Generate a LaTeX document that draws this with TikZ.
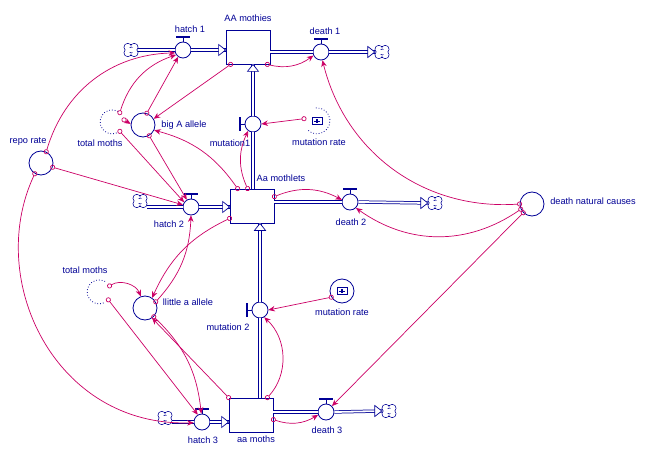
\documentclass[tikz,border=0pt]{standalone}
\usepackage{fontspec}
\setmainfont{Liberation Sans}
\usetikzlibrary{arrows.meta}
\definecolor{nv}{RGB}{0,0,150}
\definecolor{mg}{RGB}{204,0,102}
\newcommand{\pipeR}[1]{\draw[nv,line width=0.7pt,fill=white] #1 -- ++(-7,5.5) -- ++(0,-11) -- cycle;}
\newcommand{\pipeU}[1]{\draw[nv,line width=0.7pt,fill=white] #1 -- ++(-5.5,-7) -- ++(11,0) -- cycle;}
\begin{document}
\begin{tikzpicture}[x=1pt,y=1pt,
  stock/.style={draw=nv, line width=0.8pt, fill=white, minimum width=44pt, minimum height=34pt, inner sep=0},
  valve/.style={circle, draw=nv, line width=0.8pt, fill=white, minimum size=16pt, inner sep=0},
  aux/.style={circle, draw=nv, line width=0.8pt, fill=white, minimum size=24pt, inner sep=0},
  ghost/.style={circle, minimum size=24pt, inner sep=0},
  cloudn/.style={rectangle, minimum width=14pt, minimum height=13pt, inner sep=0},
  lbl/.style={text=nv, font=\fontsize{9.2}{10}\selectfont, inner sep=0, text height=6.5pt, text depth=1.8pt},
  pipe/.style={draw=nv, line width=0.75pt, double=white, double distance=1.8pt},
  conn/.style={draw=mg, line width=0.7pt, shorten <=-2.5pt, {Circle[open,length=5pt,width=5pt]}-{Stealth[length=6.5pt,width=5.5pt]}},
  vstem/.style={draw=nv, line width=0.8pt},
  vbar/.style={draw=nv, line width=1.6pt},
]
\useasboundingbox (0,0) rectangle (645,-457);
\fill[white] (0,0) rectangle (645,-457);

% stocks
\node[stock] (AA) at (248,-47) {};
\node[stock] (Aa) at (252,-206) {};
\node[stock] (aam) at (251,-415) {};

% valves
\node[valve] (h1) at (183,-50) {};
\node[valve] (d1) at (321,-52) {};
\node[valve] (h2) at (191,-207) {};
\node[valve] (d2) at (350,-202) {};
\node[valve] (h3) at (202,-422) {};
\node[valve] (d3) at (326,-412) {};
\node[valve] (m1) at (253,-124) {};
\node[valve] (m2) at (260,-310) {};

% auxiliaries
\node[aux] (rep) at (41,-163) {};
\node[aux] (bigA) at (143,-125) {};
\node[aux] (la) at (145,-308) {};
\node[aux] (dnc) at (532,-204) {};
\node[aux] (mr2) at (342,-291) {};
\node[ghost] (tm1) at (112,-122) {};
\node[ghost] (tm2) at (99,-292) {};
\node[ghost, minimum size=26pt] (mr1) at (317,-121) {};

% ghost outlines
\draw[nv, line width=0.8pt, dotted] (tm1.60) arc[start angle=60, end angle=300, radius=12];
\draw[nv, line width=0.8pt, dotted] (tm2.60) arc[start angle=60, end angle=300, radius=12];
\draw[nv, line width=0.8pt, dotted] (mr1.95) arc[start angle=95, end angle=-140, radius=13];

% slider icons
\foreach \s in {mr1,mr2} {
  \draw[nv, line width=0.7pt] ([shift={(-5,-3.5)}]\s.center) rectangle ([shift={(5,3.5)}]\s.center);
  \draw[nv, line width=0.6pt] ([shift={(-3,0)}]\s.center) -- ([shift={(3,0)}]\s.center);
  \fill[nv] ([shift={(-1.2,-1.6)}]\s.center) rectangle ([shift={(1.2,1.6)}]\s.center);
}

% clouds
\node[cloudn] (cl1) at (131,-50) {};
\node[cloudn] (cr1) at (382,-52) {};
\node[cloudn] (cl2) at (140,-201) {};
\node[cloudn] (cr2) at (435,-203) {};
\node[cloudn] (cl3) at (165,-418) {};
\node[cloudn] (cr3) at (389,-411) {};
\foreach \c in {cl1,cr1,cl2,cr2,cl3,cr3} {
  \foreach \dx/\dy in {-3.2/2.8,3.2/2.8,-3.2/-2.8,3.2/-2.8}
    \draw[nv, line width=0.7pt, fill=white] ([shift={(\dx,\dy)}]\c.center) circle[radius=3.8];
  \foreach \dx/\dy in {-3.2/2.8,3.2/2.8,-3.2/-2.8,3.2/-2.8}
    \fill[white] ([shift={(\dx,\dy)}]\c.center) circle[radius=3.3];
  \fill[white] ([shift={(-3.2,-2.8)}]\c.center) rectangle ([shift={(3.2,2.8)}]\c.center);
  \draw[nv, line width=0.6pt] ([shift={(-1.3,2.4)}]\c.center) arc[start angle=150, end angle=30, radius=1.5];
  \draw[nv, line width=0.6pt] ([shift={(-1.3,-2.4)}]\c.center) arc[start angle=210, end angle=330, radius=1.5];
}

% pipes
\draw[pipe] (cl1.east) -- (h1.west);
\draw[pipe] (h1.east) -- (AA.west |- h1);
\draw[pipe] (AA.east |- d1) -- (d1.west);
\draw[pipe] (d1.east) -- (cr1.west);
\draw[pipe] (Aa.north -| m1) -- (m1.south);
\draw[pipe] (m1.north) -- (AA.south -| m1);
\draw[pipe] (aam.north -| m2) -- (m2.south);
\draw[pipe] (m2.north) -- (Aa.south -| m2);
\draw[pipe] (cl2.east |- h2) -- (h2.west);
\draw[pipe] (h2.east) -- (Aa.west |- h2);
\draw[pipe] (Aa.east |- d2) -- (d2.west);
\draw[pipe] (d2.east) -- (cr2.west);
\draw[pipe] (cl3.east |- h3) -- (h3.west);
\draw[pipe] (h3.east) -- (aam.west |- h3);
\draw[pipe] (aam.east |- d3) -- (d3.west);
\draw[pipe] (d3.east) -- (cr3.west);

\pipeR{(AA.west |- h1)}
\pipeR{(cr1.west)}
\pipeR{(Aa.west |- h2)}
\pipeR{(cr2.west)}
\pipeR{(aam.west |- h3)}
\pipeR{(cr3.west)}
\pipeU{(AA.south -| m1)}
\pipeU{(Aa.south -| m2)}

% valve handles
\foreach \v in {h1,d1,h2,d2,h3,d3} {
  \draw[vstem] (\v.north) -- ++(0,4);
  \draw[vbar] ([shift={(-7,4.5)}]\v.north) -- ([shift={(7,4.5)}]\v.north);
}
\foreach \v in {m1,m2} {
  \draw[vstem] (\v.west) -- ++(-4,0);
  \draw[vbar] ([shift={(-4.5,-7)}]\v.west) -- ([shift={(-4.5,7)}]\v.west);
}

% connectors
\draw[conn] (rep.65) to[bend left=36] (h1.200);
\draw[conn] (tm1.50) to[bend left=27] (h1.215);
\draw[conn] (bigA.72) -- (h1.235);
\draw[conn] (tm1.10) -- (bigA.175);
\draw[conn] ([xshift=5pt]AA.south west) -- (bigA.30);
\draw[conn] ([xshift=8pt]Aa.north west) to[bend right=20] (bigA.-25);
\draw[conn] ([xshift=18pt]Aa.north west) to[bend left=25] (m1.235);
\draw[conn] (mr1.170) -- (m1.east);
\draw[conn] ([xshift=-3pt]AA.south east) to[bend right=25] (d1.205);
\draw[conn] (dnc.180) to[bend left=40] (d1.-80);
\draw[conn] (dnc.205) to[bend left=35] (d2.-45);
\draw[conn] (dnc.225) -- (d3.45);
\draw[conn] ([yshift=-8pt]Aa.north east) to[bend left=25] (d2.165);
\draw[conn] ([yshift=-22pt]aam.north east) to[bend right=25] (d3.200);
\draw[conn] (mr2.210) -- (m2.east);
\draw[conn] ([xshift=-6pt]aam.north east) to[bend right=45] (m2.-60);
\draw[conn] (rep.-20) -- (h2.165);
\draw[conn] (rep.240) .. controls (-15,-280) and (55,-427) .. (h3.185);
\draw[conn] (tm2.30) to[bend left=50] (la.110);
\draw[conn] (tm2.-40) -- (h3.120);
\draw[conn] ([yshift=5pt]Aa.south west) to[bend right=20] (la.55);
\draw[conn] (la.30) to[bend right=20] (h2.-90);
\draw[conn] (la.-45) to[bend left=20] (h3.95);
\draw[conn] (aam.north west) -- (la.-55);
\draw[conn] (bigA.-60) -- (h2.120);
\draw[conn] (tm1.-50) -- (h2.145);

% labels
\node[lbl] (lAA) at (248,-19) {AA mothies};
\node[lbl] (lh1) at (190,-30) {hatch 1};
\node[lbl] (ld1) at (325,-32) {death 1};
\node[lbl] (lrep) at (28,-141) {repo rate};
\node[lbl] (ltm1) at (100,-144) {total moths};
\node[lbl] (lbigA) at (184,-125) {big A allele};
\node[lbl] (lm1) at (230,-144) {mutation1};
\node[lbl] (lmr1) at (319,-143) {mutation rate};
\node[lbl] (lAa) at (281,-179) {Aa mothlets};
\node[lbl] (lh2) at (169,-225) {hatch 2};
\node[lbl] (ld2) at (351,-223) {death 2};
\node[lbl] (ldnc) at (593,-202) {death natural causes};
\node[lbl] (ltm2) at (85,-271) {total moths};
\node[lbl] (lla) at (188,-303) {llittle a allele};
\node[lbl] (lm2) at (228,-328) {mutation 2};
\node[lbl] (lmr2) at (342,-313) {mutation rate};
\node[lbl] (lh3) at (203,-441) {hatch 3};
\node[lbl] (laam) at (256,-440) {aa moths};
\node[lbl] (ld3) at (327,-431) {death 3};
\end{tikzpicture}
\end{document}
